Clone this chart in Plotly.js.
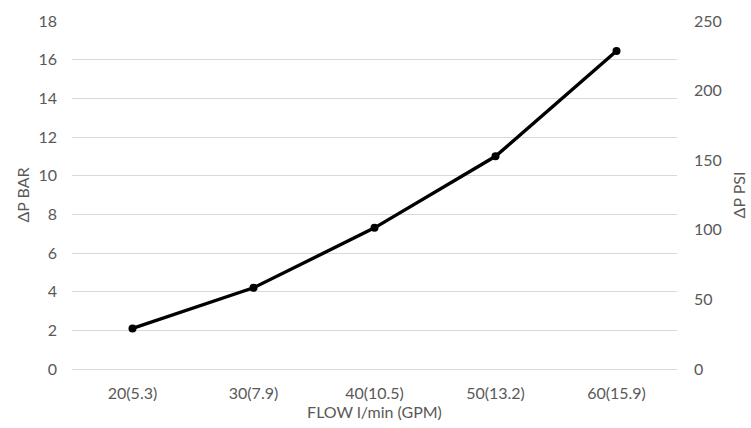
<!DOCTYPE html>
<html>
<head>
<meta charset="utf-8">
<script src="https://cdn.plot.ly/plotly-3.0.1.min.js"></script>
<style>html,body{margin:0;padding:0;background:#fff;}#chart{width:751px;height:428px;}</style>
</head>
<body>
<div id="chart"></div>
<script>
const categories = ["20(5.3)", "30(7.9)", "40(10.5)", "50(13.2)", "60(15.9)"];
const pressureBar = [2.1, 4.2, 7.3, 11.0, 16.45];
const leftTicks = [0, 2, 4, 6, 8, 10, 12, 14, 16, 18];
const rightTicks = [0, 50, 100, 150, 200, 250];

const fontFam = "Lato, 'Open Sans', sans-serif";
const gray = "#595959";
const fs = 16;

const trace = {
  x: categories,
  y: pressureBar,
  type: "scatter",
  mode: "lines+markers",
  line: {color: "#000000", width: 3.4},
  marker: {color: "#000000", size: 8},
  hoverinfo: "x+y",
  showlegend: false
};

// empty helper trace so the secondary (PSI) axis is drawn
const axisHelper = {
  x: [categories[0]],
  y: [null],
  yaxis: "y2",
  type: "scatter",
  mode: "markers",
  hoverinfo: "skip",
  showlegend: false
};

const layout = {
  width: 751,
  height: 428,
  margin: {l: 72, r: 74, t: 21, b: 59},
  paper_bgcolor: "#ffffff",
  plot_bgcolor: "#ffffff",
  font: {family: fontFam, color: gray, size: fs},
  showlegend: false,
  xaxis: {
    type: "category",
    range: [-0.5, 4.5],
    showgrid: false,
    zeroline: false,
    showline: false,
    ticks: "",
    ticklabelstandoff: 13,
    tickfont: {size: fs, color: gray},
    title: {text: "FLOW l/min (GPM)", font: {size: fs, color: gray}, standoff: 3}
  },
  yaxis: {
    range: [0, 18],
    tickvals: leftTicks,
    showgrid: true,
    gridcolor: "#d9d9d9",
    gridwidth: 1,
    zeroline: true,
    zerolinecolor: "#d9d9d9",
    zerolinewidth: 1,
    showline: false,
    ticks: "",
    ticklabelstandoff: 14,
    tickfont: {size: fs, color: gray},
    title: {text: "ΔP BAR", font: {size: fs, color: gray}, standoff: 4}
  },
  yaxis2: {
    overlaying: "y",
    side: "right",
    range: [0, 250],
    tickvals: rightTicks,
    showgrid: false,
    zeroline: false,
    showline: false,
    ticks: "",
    ticklabelstandoff: 16,
    tickfont: {size: fs, color: gray},
    title: {text: "ΔP PSI", font: {size: fs, color: gray}, standoff: 12}
  }
};

Plotly.newPlot("chart", [trace, axisHelper], layout, {displayModeBar: false, staticPlot: true});
</script>
</body>
</html>
